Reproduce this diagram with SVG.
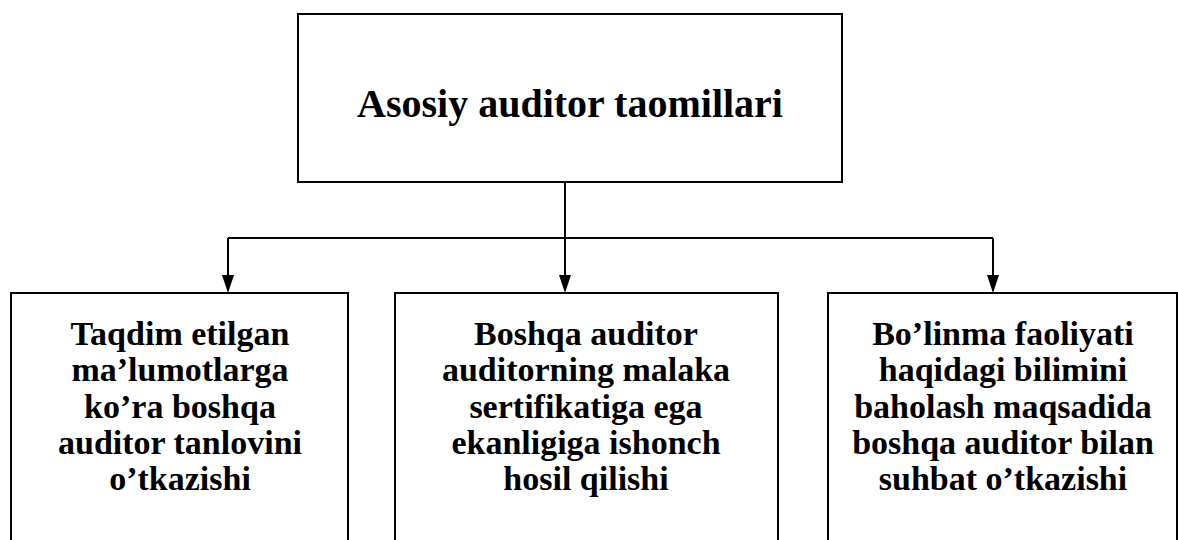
<svg xmlns="http://www.w3.org/2000/svg" width="1178" height="540" viewBox="0 0 1178 540">
<defs>
<style>
.box{fill:#fff;stroke:#000;stroke-width:2}
.t{font-family:"Liberation Serif","Times New Roman",serif;font-weight:bold;fill:#000;text-anchor:middle}
.title{font-size:40px}
.lbl{font-size:34px}
.ln{fill:none;stroke:#000;stroke-width:2}
.ah{fill:#000}
</style>
</defs>
<rect width="1178" height="540" fill="#fff"/>
<g id="connectors">
<path class="ln" d="M565,182 V238"/>
<path class="ln" d="M228,238 H993"/>
<path class="ln" d="M228,238 V276"/>
<path class="ln" d="M565,238 V276"/>
<path class="ln" d="M993,238 V276"/>
<path class="ah" d="M222,275 L234,275 L228,293 Z"/>
<path class="ah" d="M559,275 L571,275 L565,293 Z"/>
<path class="ah" d="M987,275 L999,275 L993,293 Z"/>
</g>
<g id="top">
<rect class="box" x="298" y="14" width="544" height="168"/>
<text class="t title" x="570" y="117">Asosiy auditor taomillari</text>
</g>
<g id="box1">
<rect class="box" x="11" y="293" width="337" height="270"/>
<text class="t lbl" x="180" y="345">Taqdim etilgan</text>
<text class="t lbl" x="180" y="381">ma’lumotlarga</text>
<text class="t lbl" x="180" y="418">ko’ra boshqa</text>
<text class="t lbl" x="180" y="454">auditor tanlovini</text>
<text class="t lbl" x="180" y="490">o’tkazishi</text>
</g>
<g id="box2">
<rect class="box" x="395" y="293" width="383" height="270"/>
<text class="t lbl" x="586" y="345">Boshqa auditor</text>
<text class="t lbl" x="586" y="381">auditorning malaka</text>
<text class="t lbl" x="586" y="418">sertifikatiga ega</text>
<text class="t lbl" x="586" y="454">ekanligiga ishonch</text>
<text class="t lbl" x="586" y="490">hosil qilishi</text>
</g>
<g id="box3">
<rect class="box" x="828" y="293" width="349" height="270"/>
<text class="t lbl" x="1003" y="345">Bo’linma faoliyati</text>
<text class="t lbl" x="1003" y="381">haqidagi bilimini</text>
<text class="t lbl" x="1003" y="418">baholash maqsadida</text>
<text class="t lbl" x="1003" y="454">boshqa auditor bilan</text>
<text class="t lbl" x="1003" y="490">suhbat o’tkazishi</text>
</g>
</svg>
